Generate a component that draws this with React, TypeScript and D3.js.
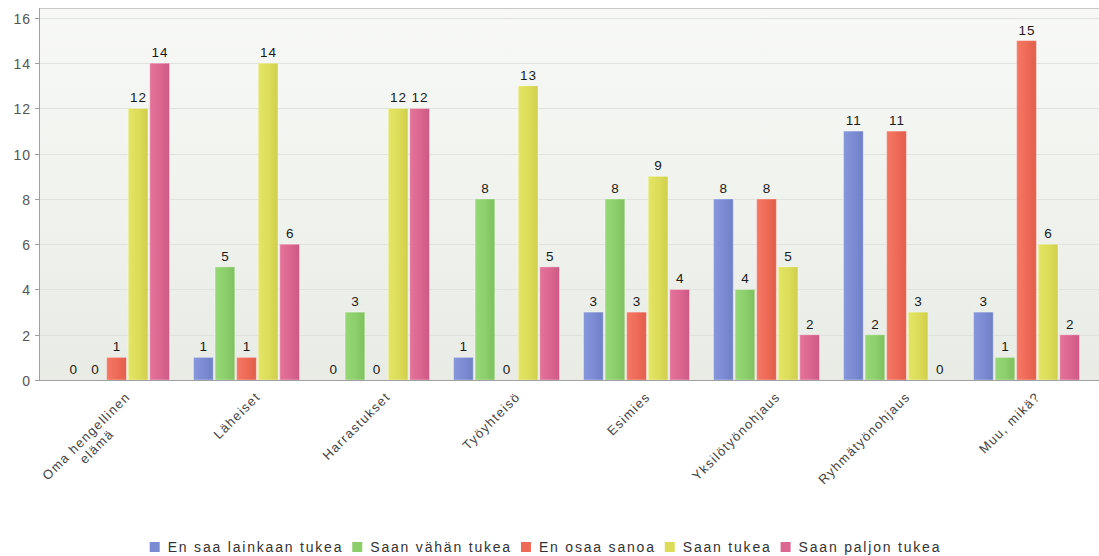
import React, { useEffect, useRef } from "react";
import * as d3 from "d3";

const categories = [
  "Oma hengellinen elämä",
  "Läheiset",
  "Harrastukset",
  "Työyhteisö",
  "Esimies",
  "Yksilötyönohjaus",
  "Ryhmätyönohjaus",
  "Muu, mikä?",
];
const categoryLines = [
  ["Oma hengellinen", "elämä"],
  ["Läheiset"],
  ["Harrastukset"],
  ["Työyhteisö"],
  ["Esimies"],
  ["Yksilötyönohjaus"],
  ["Ryhmätyönohjaus"],
  ["Muu, mikä?"],
];
const seriesNames = [
  "En saa lainkaan tukea",
  "Saan vähän tukea",
  "En osaa sanoa",
  "Saan tukea",
  "Saan paljon tukea",
];
const enSaa = [0, 1, 0, 1, 3, 8, 11, 3];
const vahan = [0, 5, 3, 8, 8, 4, 2, 1];
const enOsaa = [1, 1, 0, 0, 3, 8, 11, 15];
const saan = [12, 14, 12, 13, 9, 5, 3, 6];
const paljon = [14, 6, 12, 5, 4, 2, 0, 2];
const seriesValues = [enSaa, vahan, enOsaa, saan, paljon];
const yTicks = [0, 2, 4, 6, 8, 10, 12, 14, 16];

const colors = ["#7a8bd3", "#8bce6b", "#ee6a56", "#dcdc58", "#db6690"];
const colorsDark = ["#6f80c6", "#7fc05f", "#e05e4b", "#cfcf4e", "#cc5a84"];
const colorsLight = ["#8797dc", "#97d877", "#f57865", "#e5e566", "#e57399"];

const W = 1099;
const H = 556;
const FONT = "'Liberation Sans', Arial, sans-serif";

export default function App() {
  const ref = useRef<SVGSVGElement>(null);
  useEffect(() => {
    const svg = d3.select(ref.current);
    svg.selectAll("*").remove();
    const left = 39, right = 1099, top = 8, bottom = 380;
    const y = d3.scaleLinear().domain([0, 16.44]).range([bottom, top]);
    const x0 = d3.scaleBand<string>().domain(categories).range([50.5, 1090.5]).padding(0);
    const x1 = d3
      .scaleBand<string>()
      .domain(seriesNames)
      .range([13, 119])
      .paddingInner(0.085)
      .paddingOuter(0);

    const defs = svg.append("defs");
    const bg = defs.append("linearGradient").attr("id", "bg").attr("x1", 0).attr("y1", 0).attr("x2", 0).attr("y2", 1);
    bg.append("stop").attr("offset", "0%").attr("stop-color", "#f8f9f7");
    bg.append("stop").attr("offset", "100%").attr("stop-color", "#e8ece5");
    seriesNames.forEach((_, i) => {
      const g = defs.append("linearGradient").attr("id", "bar" + i).attr("x1", 0).attr("y1", 0).attr("x2", 1).attr("y2", 0);
      g.append("stop").attr("offset", "0%").attr("stop-color", colorsLight[i]);
      g.append("stop").attr("offset", "55%").attr("stop-color", colors[i]);
      g.append("stop").attr("offset", "100%").attr("stop-color", colorsDark[i]);
    });

    svg.append("rect").attr("x", left).attr("y", top).attr("width", right - left).attr("height", bottom - top).attr("fill", "url(#bg)");

    // grid
    svg
      .append("g")
      .selectAll("line")
      .data(yTicks.filter((t) => t > 0))
      .join("line")
      .attr("x1", left)
      .attr("x2", right)
      .attr("y1", (d) => Math.round(y(d)) + 0.5)
      .attr("y2", (d) => Math.round(y(d)) + 0.5)
      .attr("stroke", "#dfe2dd")
      .attr("stroke-width", 1);

    // top border
    svg.append("line").attr("x1", left).attr("x2", right).attr("y1", top + 0.5).attr("y2", top + 0.5).attr("stroke", "#c8c8c8");

    // bars
    const gBars = svg.append("g");
    seriesValues.forEach((vals, si) => {
      gBars
        .append("g")
        .selectAll("rect")
        .data(vals.map((v, ci) => ({ v, c: categories[ci] })))
        .join("rect")
        .attr("x", (d) => (x0(d.c) as number) + (x1(seriesNames[si]) as number))
        .attr("y", (d) => y(d.v))
        .attr("width", x1.bandwidth())
        .attr("height", (d) => bottom - y(d.v))
        .attr("fill", `url(#bar${si})`)
        .attr("stroke", "rgba(255,255,255,0.35)")
        .attr("stroke-width", 1);
      gBars
        .append("g")
        .selectAll("text")
        .data(vals.map((v, ci) => ({ v, c: categories[ci] })))
        .join("text")
        .attr("x", (d) => (x0(d.c) as number) + (x1(seriesNames[si]) as number) + x1.bandwidth() / 2 + 0.5)
        .attr("y", (d) => y(d.v) - 6)
        .attr("text-anchor", "middle")
        .attr("font-family", FONT)
        .attr("font-size", 13.5)
        .attr("letter-spacing", 1)
        .attr("fill", "#1a1a1a")
        .text((d) => String(d.v));
    });

    // axes lines
    svg.append("line").attr("x1", left + 0.5).attr("x2", left + 0.5).attr("y1", top).attr("y2", bottom).attr("stroke", "#a0a0a0");
    svg.append("line").attr("x1", left).attr("x2", right).attr("y1", bottom + 0.5).attr("y2", bottom + 0.5).attr("stroke", "#a0a0a0");

    // y ticks
    const gy = svg.append("g");
    yTicks.forEach((t) => {
      const yy = Math.round(y(t)) + 0.5;
      gy.append("line").attr("x1", left - 4).attr("x2", left).attr("y1", yy).attr("y2", yy).attr("stroke", "#a0a0a0");
      gy.append("text")
        .attr("x", 31)
        .attr("y", yy)
        .attr("dy", "0.36em")
        .attr("text-anchor", "end")
        .attr("font-family", FONT)
        .attr("font-size", 14)
        .attr("letter-spacing", 1)
        .attr("fill", "#555")
        .text(String(t));
    });

    // x labels
    const gx = svg.append("g");
    categories.forEach((c, i) => {
      const cx = (x0(c) as number) + x0.bandwidth() / 2;
      const g = gx.append("g").attr("transform", `translate(${cx + 9},${391}) rotate(-45)`);
      const lines = categoryLines[i];
      const t1 = g
        .append("text")
        .attr("text-anchor", "end")
        .attr("dy", "0.72em")
        .attr("font-family", FONT)
        .attr("font-size", 13)
        .attr("letter-spacing", 1.3)
        .attr("fill", "#444")
        .text(lines[0]);
      if (lines.length > 1) {
        const w1 = (t1.node() as SVGTextElement).getComputedTextLength();
        g.append("text")
          .attr("text-anchor", "middle")
          .attr("x", -w1 / 2)
          .attr("dy", "1.85em")
          .attr("font-family", FONT)
          .attr("font-size", 13)
          .attr("letter-spacing", 1.3)
          .attr("fill", "#444")
          .text(lines[1]);
      }
    });

    // legend
    const gl = svg.append("g");
    const items: { g: any; w: number }[] = [];
    seriesNames.forEach((n, i) => {
      const g = gl.append("g");
      g.append("rect").attr("x", 0).attr("y", -10).attr("width", 10).attr("height", 10).attr("fill", colors[i]);
      const t = g
        .append("text")
        .attr("x", 18)
        .attr("y", 0)
        .attr("font-family", FONT)
        .attr("font-size", 14)
        .attr("letter-spacing", 1.8)
        .attr("fill", "#333")
        .text(n);
      const w = 18 + (t.node() as SVGTextElement).getComputedTextLength();
      items.push({ g, w });
    });
    const gap = 9;
    const total = d3.sum(items, (d) => d.w) + gap * (items.length - 1);
    let cur = (W - total) / 2 - 4;
    items.forEach((it) => {
      it.g.attr("transform", `translate(${cur},${552})`);
      cur += it.w + gap;
    });
  }, []);
  return (
    <svg
      ref={ref}
      width={W}
      height={H}
      style={{ position: "absolute", left: 0, top: 0, background: "#fff" }}
    />
  );
}
